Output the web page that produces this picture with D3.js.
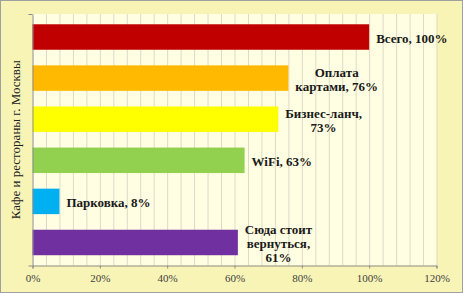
<!DOCTYPE html>
<html><head><meta charset="utf-8">
<script src="https://cdn.jsdelivr.net/npm/d3@7"></script>
<style>html,body{margin:0;padding:0;background:#F8F4B6;}svg{display:block;}</style>
</head><body>
<svg id="c" width="463" height="293"></svg>
<script>
const categories = ["Всего", "Оплата картами", "Бизнес-ланч", "WiFi", "Парковка", "Сюда стоит вернуться"];
const values = [100, 76, 73, 63, 8, 61];
const labelLines = [["Всего, 100%"], ["Оплата", "картами, 76%"], ["Бизнес-ланч,", "73%"], ["WiFi, 63%"], ["Парковка, 8%"], ["Сюда стоит", "вернуться,", "61%"]];
const colors = ["#C00000", "#FFB900", "#FFFF00", "#92D050", "#00B0F0", "#7030A0"];
const xTicks = [0, 20, 40, 60, 80, 100, 120];
const gridStep = 4;
const axisTitle = "Кафе и рестораны г. Москвы";

const svg = d3.select("#c");
const W = 463, H = 293;
const m = {left: 32.5, right: 26.5, top: 14, bottom: 27.5};
const x = d3.scaleLinear().domain([0, 120]).range([m.left, W - m.right]);
const y = d3.scaleBand().domain(categories).range([m.top, H - m.bottom]).paddingInner(0.38).paddingOuter(0.25);

svg.append("rect").attr("x", 0.5).attr("y", 0.5).attr("width", W - 1).attr("height", H - 1)
  .attr("fill", "#F8F4B6").attr("stroke", "#A0A0A0");
svg.append("rect").attr("x", m.left).attr("y", m.top).attr("width", x(120) - m.left).attr("height", H - m.bottom - m.top)
  .attr("fill", "#FFFEE2");

svg.append("g").selectAll("line").data(d3.range(gridStep, 120 + 0.1, gridStep)).join("line")
  .attr("x1", d => x(d) + 0.5).attr("x2", d => x(d) + 0.5)
  .attr("y1", m.top).attr("y2", H - m.bottom)
  .attr("stroke", "#DCDAC6").attr("stroke-width", 1);

svg.append("g").selectAll("rect").data(categories).join("rect")
  .attr("x", x(0)).attr("y", d => y(d))
  .attr("width", (d, i) => x(values[i]) - x(0)).attr("height", y.bandwidth())
  .attr("fill", (d, i) => colors[i]);

// axes
const xAxis = d3.axisBottom(x).tickValues(xTicks).tickFormat(d => d + "%").tickSize(3).tickPadding(6);
const gx = svg.append("g").attr("transform", `translate(0,${H - m.bottom})`).call(xAxis);
gx.select(".domain").attr("stroke", "#8C8C8C");
gx.selectAll(".tick line").attr("stroke", "#8C8C8C");
gx.selectAll("text").attr("font-family", "Liberation Serif, Times New Roman, serif").attr("font-size", 11).attr("fill", "#404040");

const yAxis = d3.axisLeft(y).tickSize(0).tickFormat("");
const gy = svg.append("g").attr("transform", `translate(${m.left},0)`).call(yAxis);
gy.select(".domain").attr("stroke", "#8C8C8C");
const bounds = [m.top, ...categories.map(c => y(c) + y.step() - y.paddingInner() * y.step() / 2 ), H - m.bottom];
gy.selectAll("line.bt").data([m.top, H - m.bottom]).join("line").attr("class", "bt")
  .attr("x1", -4).attr("x2", 0).attr("y1", d => d + 0.5).attr("y2", d => d + 0.5).attr("stroke", "#8C8C8C");

svg.append("text").attr("transform", `translate(20,${(m.top + H - m.bottom) / 2}) rotate(-90)`)
  .attr("text-anchor", "middle").attr("font-family", "Liberation Serif, Times New Roman, serif")
  .attr("font-size", 13).attr("fill", "#222").text(axisTitle);

// labels
const lh = 14;
const lg = svg.append("g").attr("font-family", "Liberation Serif, Times New Roman, serif")
  .attr("font-size", 13).attr("font-weight", "bold").attr("fill", "#1a1a1a");
categories.forEach((c, i) => {
  const lines = labelLines[i];
  const t = lg.append("text").attr("text-anchor", "middle");
  const cy = y(c) + y.bandwidth() / 2 + 1;
  const spans = lines.map((l, k) => t.append("tspan").text(l)
    .attr("y", cy + (k - (lines.length - 1) / 2) * lh).attr("dy", "0.35em"));
  let mw = 0;
  spans.forEach(s => { mw = Math.max(mw, s.node().getComputedTextLength()); });
  const cx = x(values[i]) + 7 + mw / 2;
  spans.forEach(s => s.attr("x", cx));
});
</script>
</body></html>
